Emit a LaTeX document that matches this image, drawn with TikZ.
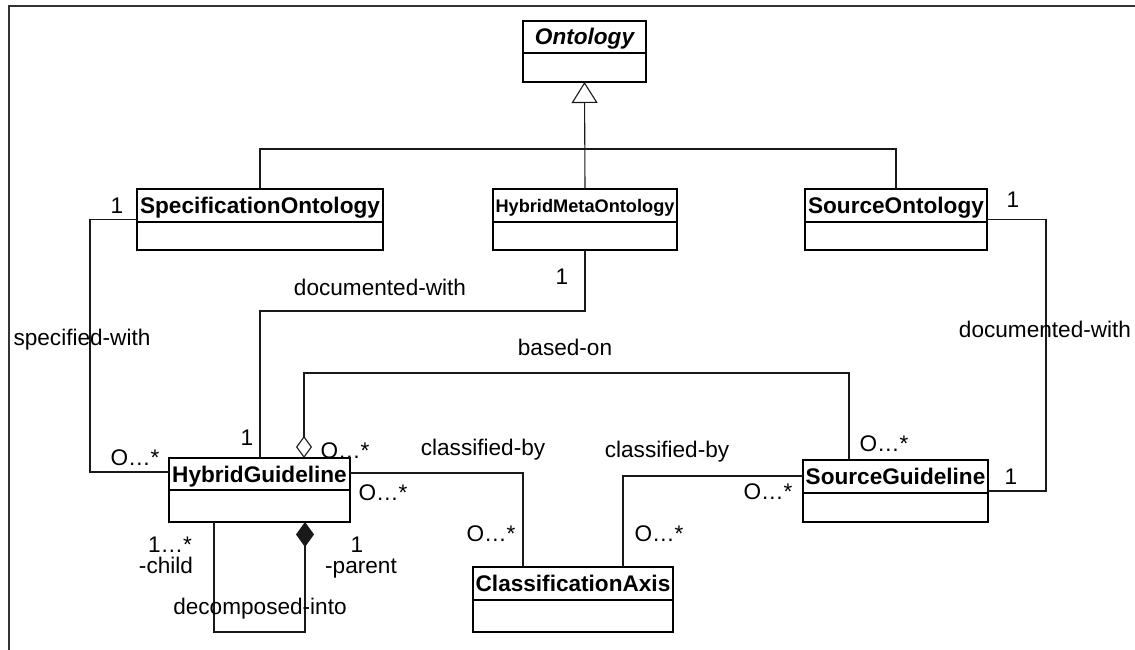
\documentclass[tikz,border=0pt]{standalone}
\usepackage{fontspec}
\setmainfont{Liberation Sans}
\usetikzlibrary{arrows.meta}

% class box: name, left, top, width, height, header height, title, title style
\newcommand\umlclass[8]{%
  \node[classbox, minimum width=#4pt, minimum height=#5pt] (#1) at (#2,#3) {};
  \draw[line width=1.4pt] ([yshift=-#6pt]#1.north west) -- ([yshift=-#6pt]#1.north east);
  \node[classname,#8] (#1-title) at ([yshift=-#6pt/2]#1.north) {#7};
}

\begin{document}
\begin{tikzpicture}[x=1pt,y=-1pt,
  classbox/.style={draw=black, line width=1.4pt, inner sep=0pt, outer sep=0pt, anchor=north west},
  classname/.style={font=\fontsize{22.6}{24}\selectfont\bfseries, text height=16pt, text depth=0pt, inner sep=0pt},
  assoc/.style={draw=black!90, line width=1.1pt},
  lbl/.style={font=\fontsize{22.6}{24}\selectfont, inner sep=0pt, anchor=base},
]
\useasboundingbox (0,0) rectangle (1135,650);

% frame
\draw[line width=2.2pt, black!80] (9,650) -- (9,6) -- (1135,6);

% classes
\umlclass{ont}{523}{21}{123}{61}{32}{Ontology}{font=\fontsize{22.6}{24}\selectfont\bfseries\itshape}
\umlclass{spec}{137}{189}{246}{61}{33}{SpecificationOntology}{}
\umlclass{hmo}{493}{189}{184}{61}{33}{HybridMetaOntology}{font=\fontsize{18.2}{20}\selectfont\bfseries, text height=13pt}
\umlclass{so}{805}{189}{182}{61}{33}{SourceOntology}{}
\umlclass{hg}{169}{458}{181}{64}{32}{HybridGuideline}{}
\umlclass{sg}{803}{460}{185}{62}{33}{SourceGuideline}{}
\umlclass{ca}{473}{567}{200}{65}{33}{ClassificationAxis}{}

% generalisation
\coordinate (bus) at (585,149);
\draw[assoc] (spec.north) |- (bus) -| (so.north);
\draw[assoc, -{Triangle[open, length=21pt, width=26pt]}] (hmo.north) -- (ont.south);

% associations
\draw[assoc] (spec.west) -- ++(-47,0) |- ([yshift=-14pt]hg.north west);
\draw[assoc] (hmo.south) -- ++(0,61) -| ([xshift=91pt]hg.north west);
\draw[assoc, {Diamond[open, length=22pt, width=16pt]}-] ([xshift=135pt]hg.north west) -- ++(0,-85) -| ([xshift=46pt]sg.north west);
\draw[assoc] ([yshift=-15pt]hg.north east) -| ([xshift=50pt]ca.north west);
\draw[assoc] ([yshift=-16pt]sg.north west) -| ([xshift=150pt]ca.north west);
\draw[assoc] (so.east) -- ++(59,0) |- ([yshift=-31pt]sg.north east);
\draw[assoc, {Diamond[length=25pt, width=18pt]}-] ([xshift=136pt]hg.south west) -- ++(0,110) -| ([xshift=45pt]hg.south west);

% association names
\node[lbl] (l-spec) at (82,345) {specified-with};
\node[lbl] (l-doc1) at (380,295) {documented-with};
\node[lbl] (l-doc2) at (1045,337) {documented-with};
\node[lbl] (l-based) at (565,355) {based-on};
\node[lbl] (l-cls1) at (483,455) {classified-by};
\node[lbl] (l-cls2) at (667,457) {classified-by};
\node[lbl] (l-dec) at (260,614) {decomposed-into};

% multiplicities and roles
\node[lbl] (m1) at (117,213) {1};
\node[lbl] (m2) at (562,284) {1};
\node[lbl] (m3) at (1013,207) {1};
\node[lbl] (m4) at (247,445) {1};
\node[lbl] (m5) at (135,465) {O…*};
\node[lbl] (m6) at (345,458) {O…*};
\node[lbl] (m7) at (383,500) {O…*};
\node[lbl] (m8) at (491,541) {O…*};
\node[lbl] (m9) at (659,541) {O…*};
\node[lbl] (m10) at (768,499) {O…*};
\node[lbl] (m11) at (884,451) {O…*};
\node[lbl] (m12) at (1011,484) {1};
\node[lbl] (m13) at (170,552) {1…*};
\node[lbl] (r1) at (166,573) {-child};
\node[lbl] (m14) at (357,552) {1};
\node[lbl] (r2) at (361,573) {-parent};
\end{tikzpicture}
\end{document}
